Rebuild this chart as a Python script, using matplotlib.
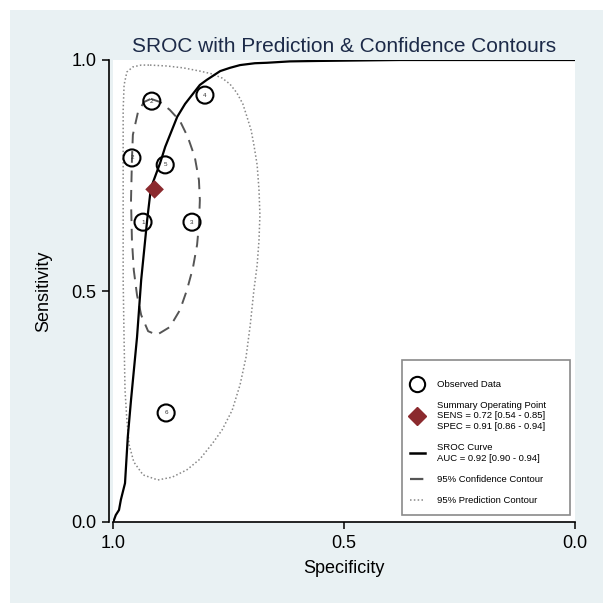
import matplotlib
matplotlib.use("Agg")
import matplotlib.pyplot as plt
from matplotlib.lines import Line2D
from matplotlib.patches import Rectangle

plt.rcParams['font.family'] = ['Liberation Sans', 'DejaVu Sans']

# observed studies (specificity, sensitivity)
study_labels = ["1", "2", "2", "3", "4", "5", "6"]
study_spec = [0.935, 0.916, 0.959, 0.829, 0.801, 0.887, 0.885]
study_sens = [0.649, 0.911, 0.788, 0.649, 0.924, 0.773, 0.236]

# summary operating point
summ_spec = 0.91
summ_sens = 0.72

# SROC curve
sroc_spec = [1.000, 0.998, 0.994, 0.987, 0.983, 0.974, 0.968, 0.961, 0.948, 0.939,
             0.926, 0.918, 0.898, 0.887, 0.861, 0.844, 0.812, 0.797, 0.768, 0.747,
             0.725, 0.693, 0.667, 0.617, 0.552, 0.379, 0.0]
sroc_sens = [0.000, 0.004, 0.015, 0.026, 0.048, 0.084, 0.184, 0.264, 0.400, 0.524,
             0.654, 0.723, 0.777, 0.812, 0.877, 0.905, 0.946, 0.957, 0.976, 0.983,
             0.989, 0.993, 0.994, 0.997, 0.998, 1.000, 1.000]

# 95% confidence contour
conf_spec = [0.918, 0.898, 0.877, 0.855, 0.838, 0.823, 0.814, 0.812, 0.814, 0.818,
             0.827, 0.840, 0.855, 0.877, 0.905, 0.924, 0.939, 0.948, 0.955, 0.959,
             0.961, 0.959, 0.957, 0.946, 0.933, 0.918]
conf_sens = [0.916, 0.909, 0.892, 0.868, 0.833, 0.790, 0.740, 0.697, 0.643, 0.600,
             0.550, 0.502, 0.459, 0.422, 0.405, 0.413, 0.448, 0.491, 0.545, 0.610,
             0.697, 0.784, 0.838, 0.887, 0.909, 0.916]

# 95% prediction contour
pred_spec = [0.920, 0.883, 0.848, 0.812, 0.786, 0.764, 0.747, 0.732, 0.719, 0.710,
             0.701, 0.695, 0.688, 0.684, 0.682, 0.684, 0.688, 0.695, 0.703, 0.712,
             0.725, 0.742, 0.764, 0.784, 0.812, 0.840, 0.872, 0.903, 0.935, 0.955,
             0.965, 0.970, 0.974, 0.976, 0.978, 0.978, 0.978, 0.978, 0.976, 0.970,
             0.957, 0.939, 0.920]
pred_sens = [0.989, 0.987, 0.983, 0.976, 0.970, 0.961, 0.948, 0.929, 0.905, 0.877,
             0.848, 0.816, 0.773, 0.719, 0.665, 0.610, 0.556, 0.502, 0.426, 0.357,
             0.297, 0.242, 0.199, 0.171, 0.136, 0.113, 0.097, 0.091, 0.102, 0.130,
             0.167, 0.221, 0.286, 0.394, 0.524, 0.654, 0.784, 0.892, 0.946, 0.974,
             0.985, 0.989, 0.989]

fig = plt.figure(figsize=(6.13, 6.13), dpi=100)
# stata style light blue panel
fig.patches.append(Rectangle((10/613, 10/613), 593/613, 593/613, transform=fig.transFigure,
                             facecolor='#e9f1f3', edgecolor='none', zorder=-10))

ax = fig.add_axes([113/613, 1 - 522/613, 462/613, 462/613])
ax.set_facecolor('white')

dots = (0, (1, 1.5))
dashes = (0, (6, 4))
ax.plot(pred_spec, pred_sens, linestyle=dots, color='#888888', linewidth=1.1)
ax.plot(conf_spec, conf_sens, linestyle=dashes, color='#555555', linewidth=1.4)
ax.plot(sroc_spec, sroc_sens, color='black', linewidth=1.6)

ax.scatter(study_spec, study_sens, s=150, facecolors='none', edgecolors='black', linewidths=1.5, zorder=4)
for lab, xs, ys in zip(study_labels, study_spec, study_sens):
    ax.text(xs, ys, lab, fontsize=4.5, ha='center', va='center', color='#333333', zorder=5)

ax.scatter([summ_spec], [summ_sens], marker='D', s=90, color='#8b2a2e', edgecolors='none', zorder=6)

ax.set_xlim(1, 0)
ax.set_ylim(0, 1)
ax.set_xticks([1.0, 0.5, 0.0])
ax.set_yticks([0.0, 0.5, 1.0])
ax.set_xticklabels(["1.0", "0.5", "0.0"])
ax.set_yticklabels(["0.0", "0.5", "1.0"])
ax.tick_params(labelsize=13, length=5, width=1.1, direction='out', pad=4)
for s in ['top', 'right']:
    ax.spines[s].set_visible(False)
ax.spines['left'].set_position(('outward', 3))
ax.spines['left'].set_linewidth(1.2)
ax.spines['bottom'].set_linewidth(1.2)

ax.set_xlabel("Specificity", fontsize=13, labelpad=6)
ax.set_ylabel("Sensitivity", fontsize=13, labelpad=14)
ax.set_title("SROC with Prediction & Confidence Contours", fontsize=15, color='#1c2a48', pad=6)

# legend box like stata's
ax.add_patch(Rectangle((0.6255, 0.0152), 0.3636, 0.3355, transform=ax.transAxes,
                       facecolor='white', edgecolor='#8a8a8a', linewidth=1.2, zorder=7))

handles = [
    Line2D([], [], marker='o', linestyle='none', markersize=11, markerfacecolor='none',
           markeredgecolor='black', markeredgewidth=1.5),
    Line2D([], [], marker='D', linestyle='none', markersize=9, color='#8b2a2e'),
    Line2D([], [], color='black', linewidth=1.8),
    Line2D([], [], color='#555555', linewidth=1.6, linestyle=dashes),
    Line2D([], [], color='#888888', linewidth=1.1, linestyle=dots),
]
labels = [
    "Observed Data",
    "Summary Operating Point\nSENS = 0.72 [0.54 - 0.85]\nSPEC = 0.91 [0.86 - 0.94]",
    "SROC Curve\nAUC = 0.92 [0.90 - 0.94]",
    "95% Confidence Contour",
    "95% Prediction Contour",
]
leg = ax.legend(handles, labels, loc='upper left', bbox_to_anchor=(0.632, 0.318), fontsize=6.8,
                handlelength=1.6, handletextpad=1.3, labelspacing=1.3, borderpad=0,
                frameon=False)
leg.set_zorder(8)

fig.savefig("out.png", dpi=100)
